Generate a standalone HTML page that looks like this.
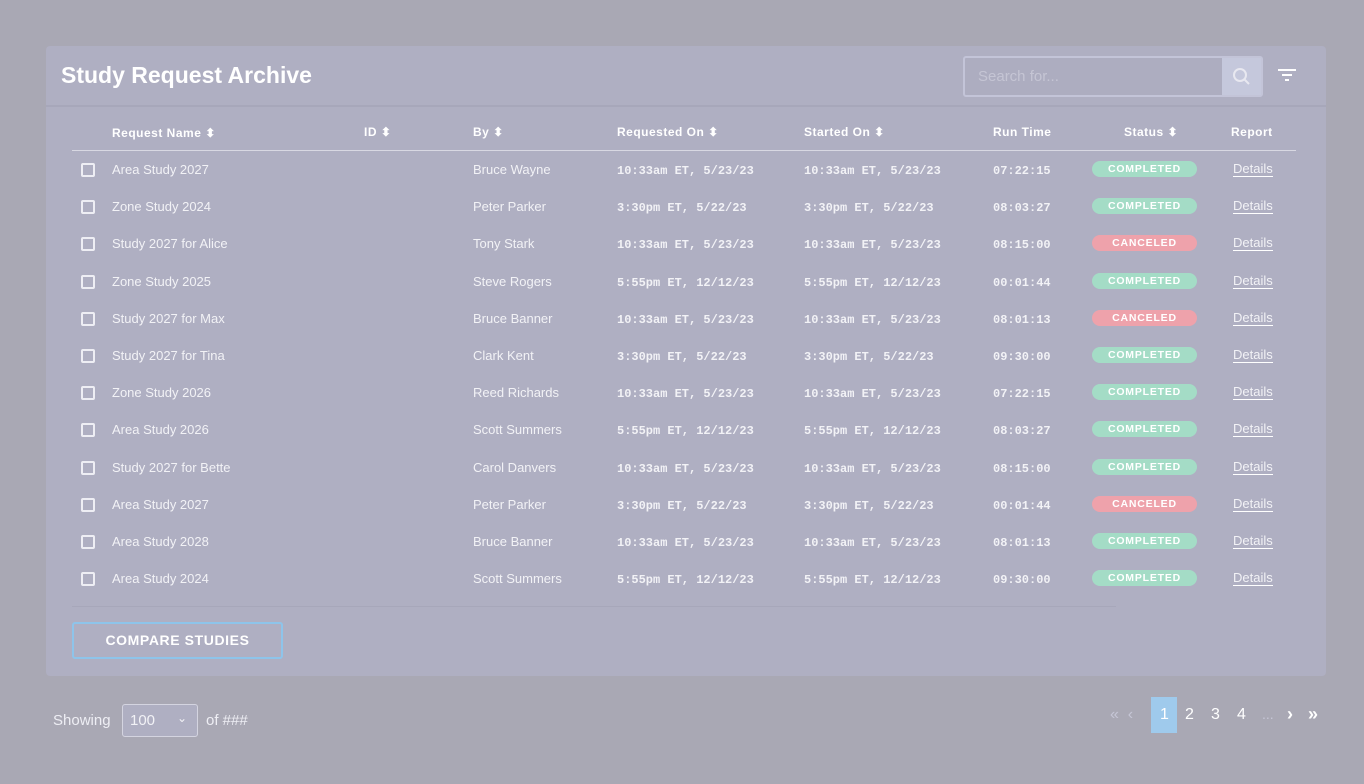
<!DOCTYPE html>
<html><head><style>
*{margin:0;padding:0;box-sizing:border-box}
body{width:1364px;height:784px;background:#a9a8b4;font-family:"Liberation Sans",sans-serif;position:relative;overflow:hidden;color:#f2f2f6}
.card{position:absolute;left:46px;top:46px;width:1280px;height:630px;background:#afafc2;border-radius:4px}
.hd{position:absolute;left:0;top:0;width:1280px;height:61px;border-bottom:2px solid #a7a7ba}
.title{position:absolute;left:15px;top:16px;font-size:23px;font-weight:bold;color:#fff}
.search{position:absolute;left:917px;top:10px;width:300px;height:41px;border:2px solid #c3c4d8;border-radius:3px;background:#adadc0}
.search span{position:absolute;left:13px;top:10px;font-size:15px;color:#c5c5d4}
.sbtn{position:absolute;right:0;top:0;width:39px;height:37px;background:#c5c8dc}
.abs{position:absolute}
.th{position:absolute;top:79px;font-size:12px;font-weight:bold;color:#fff;letter-spacing:.5px}
.line{position:absolute;left:26px;top:104px;width:1224px;height:1px;background:#d8d8e2}
.row{position:absolute;left:0;width:1280px;height:37px;font-size:13px}
.row>*{position:absolute;top:0}
.cb{left:35px!important;top:-7px!important;width:14px;height:14px;border:2px solid #eeeef4;border-radius:2px}
.mono{font-family:"Liberation Mono",monospace;font-weight:bold;font-size:12px}
.pill{left:1046px!important;top:-9px!important;width:105px;height:16px;border-radius:8px;font-size:10.5px;font-weight:bold;text-align:center;line-height:16px;letter-spacing:.8px;color:#fff}
.ok{background:#a4dcc6}.no{background:#eea2ab}
.det{left:1187px!important;border-bottom:1px solid #fff;line-height:14px}
.t{top:-8px!important}
.row .mono{top:-6px!important}
</style></head><body>
<div class="card">
<div class="hd"><div class="title">Study Request Archive</div>
<div class="search"><span>Search for...</span><div class="sbtn"><svg width="39" height="37"><circle cx="18" cy="17" r="6" stroke="#e8e8f0" stroke-width="2" fill="none"/><line x1="22.5" y1="21.5" x2="27" y2="26" stroke="#e8e8f0" stroke-width="2"/></svg></div></div>
<svg class="abs" style="left:1232px;top:22px" width="20" height="14"><rect x="0" y="1" width="18" height="2" fill="#fff"/><rect x="4" y="6" width="10" height="2" fill="#fff"/><rect x="7" y="11" width="4" height="2" fill="#fff"/></svg>
</div>
<div class="th" style="left:66px;top:80px">Request Name ⬍</div>
<div class="th" style="left:318px">ID ⬍</div>
<div class="th" style="left:427px">By ⬍</div>
<div class="th" style="left:571px">Requested On ⬍</div>
<div class="th" style="left:758px">Started On ⬍</div>
<div class="th" style="left:947px">Run Time</div>
<div class="th" style="left:1078px">Status ⬍</div>
<div class="th" style="left:1185px">Report</div>
<div class="line"></div>
<div id="rows"></div>
<div class="abs" style="left:26px;top:560px;width:1044px;height:1px;background:#a7a7ba"></div>
<div class="abs" style="left:26px;top:576px;width:211px;height:37px;border:2px solid #8ec4ea;border-radius:3px;color:#fff;font-weight:bold;font-size:14px;text-align:center;line-height:33px;letter-spacing:.6px">COMPARE STUDIES</div>
</div>
<div class="abs" style="left:53px;top:712px;font-size:15px;color:#eeeef4">Showing</div>
<div class="abs" style="left:122px;top:704px;width:76px;height:33px;border:1px solid #d4d4e0;border-radius:3px;background:#afafc2;font-size:15px;padding:7px 7px">100<span style="position:absolute;right:10px;top:6px;font-size:12px">⌄</span></div>
<div class="abs" style="left:206px;top:712px;font-size:15px;color:#eeeef4">of ###</div>
<div class="abs" style="left:1151px;top:697px;width:26px;height:36px;background:#9fcaec"></div>
<div class="abs" style="left:1110px;top:706px;font-size:16px;color:#c6c6d6;word-spacing:0">«&nbsp;&nbsp;‹</div>
<div class="abs" style="left:1160px;top:706px;font-size:16px;color:#fff">1</div>
<div class="abs" style="left:1185px;top:706px;font-size:16px;color:#fff">2</div>
<div class="abs" style="left:1211px;top:706px;font-size:16px;color:#fff">3</div>
<div class="abs" style="left:1237px;top:706px;font-size:16px;color:#fff">4</div>
<div class="abs" style="left:1262px;top:706px;font-size:14px;color:#c6c6d6">...</div>
<div class="abs" style="left:1287px;top:704px;font-size:18px;color:#fff;font-weight:bold">›</div>
<div class="abs" style="left:1308px;top:704px;font-size:18px;color:#fff;font-weight:bold">»</div>
<script>
const d=[["Area Study 2027","Bruce Wayne","10:33am ET, 5/23/23","07:22:15",1],
["Zone Study 2024","Peter Parker","3:30pm ET, 5/22/23","08:03:27",1],
["Study 2027 for Alice","Tony Stark","10:33am ET, 5/23/23","08:15:00",0],
["Zone Study 2025","Steve Rogers","5:55pm ET, 12/12/23","00:01:44",1],
["Study 2027 for Max","Bruce Banner","10:33am ET, 5/23/23","08:01:13",0],
["Study 2027 for Tina","Clark Kent","3:30pm ET, 5/22/23","09:30:00",1],
["Zone Study 2026","Reed Richards","10:33am ET, 5/23/23","07:22:15",1],
["Area Study 2026","Scott Summers","5:55pm ET, 12/12/23","08:03:27",1],
["Study 2027 for Bette","Carol Danvers","10:33am ET, 5/23/23","08:15:00",1],
["Area Study 2027","Peter Parker","3:30pm ET, 5/22/23","00:01:44",0],
["Area Study 2028","Bruce Banner","10:33am ET, 5/23/23","08:01:13",1],
["Area Study 2024","Scott Summers","5:55pm ET, 12/12/23","09:30:00",1]];
let h="";d.forEach((r,i)=>{const y=124+i*37.2;
h+=`<div class="row" style="top:${y}px"><div class="cb"></div><div class="t" style="left:66px">${r[0]}</div><div class="t" style="left:427px">${r[1]}</div><div class="t mono" style="left:571px">${r[2]}</div><div class="t mono" style="left:758px">${r[2]}</div><div class="t mono" style="left:947px">${r[3]}</div><div class="pill ${r[4]?'ok':'no'}">${r[4]?'COMPLETED':'CANCELED'}</div><div class="t det">Details</div></div>`});
document.getElementById('rows').innerHTML=h;
</script>
</body></html>
